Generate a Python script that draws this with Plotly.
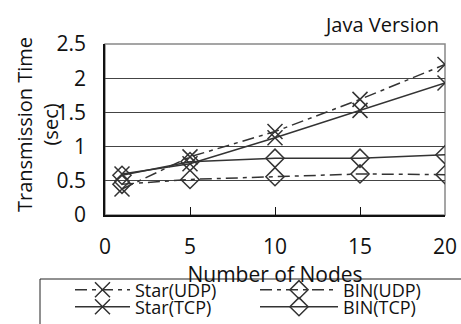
import plotly.graph_objects as go

nodes = [1, 5, 10, 15, 20]
star_udp = [0.38, 0.85, 1.22, 1.69, 2.20]
star_tcp = [0.60, 0.75, 1.13, 1.53, 1.93]
bin_udp = [0.45, 0.52, 0.56, 0.60, 0.59]
bin_tcp = [0.58, 0.78, 0.83, 0.83, 0.88]

x_ticks = [0, 5, 10, 15, 20]
y_ticks = [0, 0.5, 1, 1.5, 2, 2.5]
y_tick_text = ["0", "0.5", "1", "1.5", "2", "2.5"]

C = "#333333"
FONT = "Open Sans"
dashdot = "12px,5px,4px,5px"

# plot area in pixels
L, R, T, B = 105, 445, 44, 215
W, H = R - L, B - T


def px_x(p):
    return (p - L) / W


def px_y(p):
    return (B - p) / H


fig = go.Figure()
specs = [
    ("Star(UDP)", star_udp, "x-thin-open", dashdot, "legend"),
    ("BIN(UDP)", bin_udp, "diamond-open", dashdot, "legend2"),
    ("Star(TCP)", star_tcp, "x-thin-open", "solid", "legend3"),
    ("BIN(TCP)", bin_tcp, "diamond-open", "solid", "legend4"),
]
for name, ys, sym, dash, leg in specs:
    fig.add_trace(go.Scatter(
        x=nodes, y=ys, name=name, mode="lines+markers", legend=leg,
        line=dict(color=C, width=1.5, dash=dash),
        marker=dict(symbol=sym, size=15 if sym.startswith("x") else 14, color=C,
                    line=dict(color=C, width=1.5))))

fig.add_shape(type="rect", xref="x domain", yref="y domain", x0=0, x1=1, y0=0, y1=1,
              line=dict(color="#888888", width=1.5), layer="below")
# legend frame
fig.add_shape(type="rect", xref="paper", yref="paper",
              x0=px_x(40), x1=px_x(475), y0=px_y(335), y1=px_y(279),
              line=dict(color="#222222", width=1))

leg_common = dict(orientation="v", xanchor="left", yanchor="middle", borderwidth=0,
                  bgcolor="rgba(0,0,0,0)", font=dict(size=18, family=FONT, color="#111111"),
                  tracegroupgap=0)
col1, col2 = px_x(70), px_x(255)
row1, row2 = px_y(290), px_y(307)

fig.update_layout(
    width=461, height=324,
    margin=dict(l=L, r=461 - R, t=T, b=324 - B, autoexpand=False),
    paper_bgcolor="white", plot_bgcolor="white",
    font=dict(family=FONT, color="#111111", size=21),
    showlegend=True,
    legend=dict(x=col1, y=row1, itemwidth=55, **leg_common),
    legend2=dict(x=col2, y=row1, itemwidth=78, **leg_common),
    legend3=dict(x=col1, y=row2, itemwidth=55, **leg_common),
    legend4=dict(x=col2, y=row2, itemwidth=78, **leg_common),
    annotations=[
        dict(text="Java Version", xref="paper", yref="paper", x=px_x(441), y=px_y(25),
             xanchor="right", yanchor="middle", showarrow=False,
             font=dict(size=20, family=FONT)),
        dict(text="Transmission Time<br>(sec)", xref="paper", yref="paper",
             x=px_x(37), y=px_y(125), xanchor="center", yanchor="middle",
             textangle=-90, showarrow=False, font=dict(size=20, family=FONT)),
    ],
    xaxis=dict(range=[0, 20], tickvals=x_ticks, ticks="inside", ticklen=8, tickcolor="#111111",
               showline=True, linecolor="#111111", linewidth=1.5, showgrid=False, zeroline=False,
               ticklabelstandoff=12, tickfont=dict(size=21),
               title=dict(text="Number of Nodes", standoff=0, font=dict(size=21))),
    yaxis=dict(range=[0, 2.5], tickvals=y_ticks, ticktext=y_tick_text, ticks="",
               showline=True, linecolor="#111111", linewidth=1.5,
               showgrid=True, gridcolor="#444444", gridwidth=1, zeroline=False,
               ticklabelstandoff=13, tickfont=dict(size=21)),
)

fig.write_html("out.html", config={"displayModeBar": False},
               post_script="document.body.style.margin='0';")
